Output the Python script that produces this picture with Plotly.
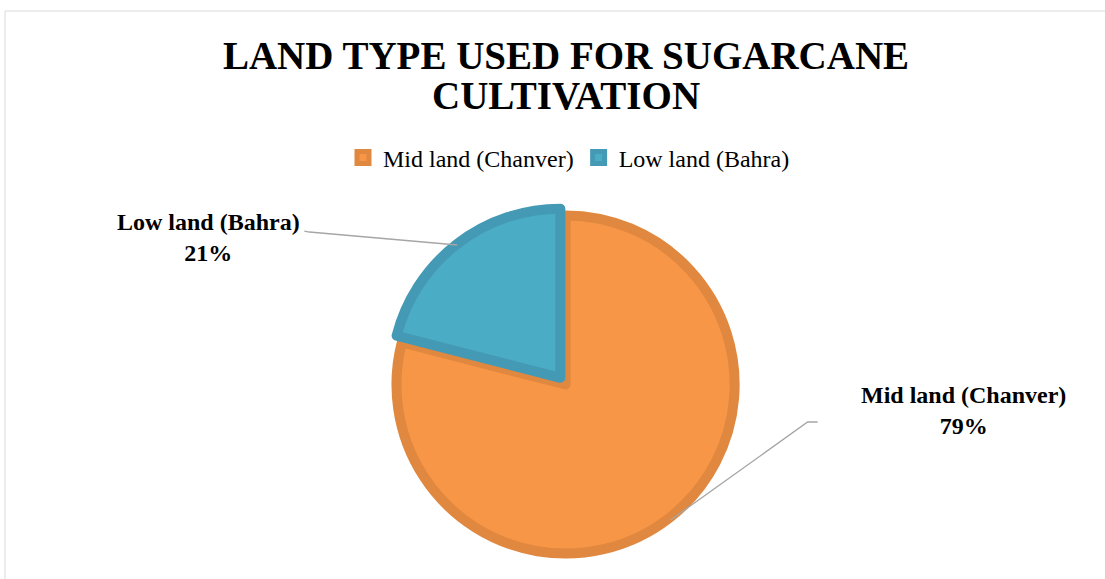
import math

import plotly.graph_objects as go

# Data
labels = ["Mid land (Chanver)", "Low land (Bahra)"]
shares = [79, 21]
fill_colors = ["#F79646", "#4BACC6"]
edge_colors = ["#E0883F", "#4499B4"]
title_lines = ["LAND TYPE USED FOR SUGARCANE", "CULTIVATION"]

W, H = 1105, 579
FONT = "Liberation Serif, Times New Roman, serif"


def px(x, y):
    """Screen pixel -> paper coords (margins are zero)."""
    return x / W, 1 - y / H


# pie placement in screen pixels (domain centre + half size)
cx_px, cy_px, half_px = 564.0, 382.5, 175.0
x0, y1 = px(cx_px - half_px, cy_px - half_px)
x1, y0 = px(cx_px + half_px, cy_px + half_px)

fig = go.Figure(
    go.Pie(
        labels=labels, values=shares, sort=False, direction="clockwise", rotation=0,
        pull=[0.015, 0.035], textinfo="none", hoverinfo="label+percent",
        marker=dict(colors=fill_colors, line=dict(color=edge_colors, width=10)),
        domain=dict(x=[x0, x1], y=[y0, y1]),
    )
)

# leader lines from each slice's mid-angle on the rim; offsets in px
# (elbow, line end, label centre) relative to the rim point
leaders = {
    "Mid land (Chanver)": ((137, -98), (147, -98), (293, -109)),
    "Low land (Bahra)": ((-148, -13), (-153, -14), (-249, -8)),
}
total = sum(shares)
cum = 0.0
rim_px = 174.0
for lab, val in zip(labels, shares):
    mid = (cum + val / 2) / total * 2 * math.pi  # clockwise from 12 o'clock
    cum += val
    tx_px = cx_px + rim_px * math.sin(mid)
    ty_px = cy_px - rim_px * math.cos(mid)
    elbow, end, lbl = leaders[lab]
    pts = [px(tx_px, ty_px), px(tx_px + elbow[0], ty_px + elbow[1]),
           px(tx_px + end[0], ty_px + end[1])]
    path = "M {} {} L {} {} L {} {}".format(*[c for p in pts for c in p])
    fig.add_shape(type="path", xref="paper", yref="paper", path=path,
                  line=dict(color="#A6A6A6", width=1.3))
    lx, ly = px(tx_px + lbl[0], ty_px + lbl[1])
    fig.add_annotation(
        x=lx, y=ly, xref="paper", yref="paper", xanchor="center", yanchor="middle",
        text=f"<b>{lab}<br>{round(val / total * 100)}%</b>", showarrow=False,
        font=dict(family=FONT, size=24, color="#000000"), align="center",
    )

# second title line (Office-style tight line spacing)
t2x, t2y = px(566, 95)
fig.add_annotation(
    x=t2x, y=t2y, xref="paper", yref="paper", xanchor="center",
    yanchor="middle", showarrow=False, text=f"<b>{title_lines[1]}</b>",
    font=dict(family=FONT, size=39, color="#000000"),
)

# chart-area frame
fx0, fy1 = px(5, 11)
fig.add_shape(type="rect", xref="paper", yref="paper",
              x0=fx0, x1=1.02, y0=-0.03, y1=fy1,
              line=dict(color="#D9D9D9", width=1), fillcolor="rgba(0,0,0,0)")

t1x, t1y = px(566, 55)
lgx, lgy = px(569, 158)
fig.update_layout(
    width=W, height=H, paper_bgcolor="white", plot_bgcolor="white",
    margin=dict(l=0, r=0, t=0, b=0, autoexpand=False),
    title=dict(text=f"<b>{title_lines[0]}</b>",
               x=t1x, xanchor="center", y=t1y, yanchor="middle",
               font=dict(family=FONT, size=39, color="#000000")),
    legend=dict(orientation="h", x=lgx, xanchor="center", y=lgy,
                yanchor="middle", font=dict(family=FONT, size=24, color="#000000"),
                itemclick=False),
    showlegend=True,
)

# drop the browser's default 8px body margin so the figure sits at (0, 0)
fig.write_html("out.html", config={"displayModeBar": False},
               post_script="document.body.style.margin = '0';")
